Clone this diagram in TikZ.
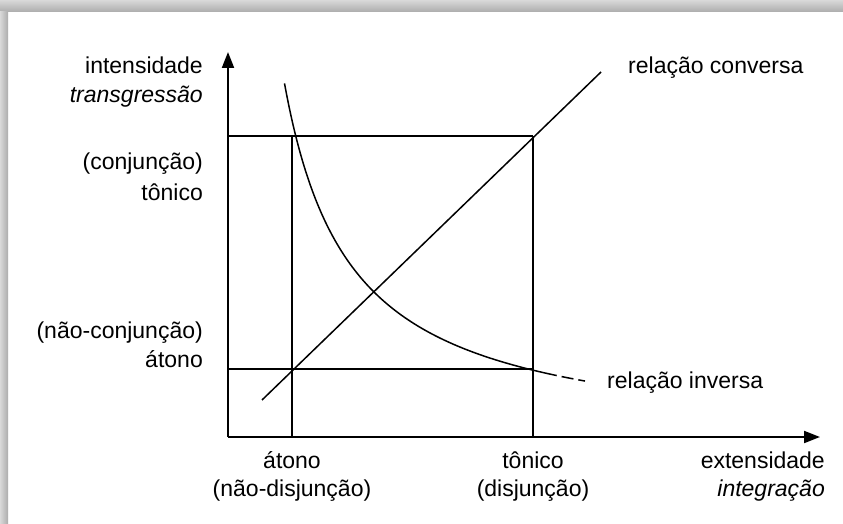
\documentclass[tikz,border=0pt]{standalone}
\usepackage{fontspec}
\setmainfont{Liberation Sans}
\usetikzlibrary{arrows.meta}
\begin{document}
\begin{tikzpicture}[x=1pt,y=-1pt,
  lbl/.style={inner sep=0pt,font=\fontsize{23}{27}\selectfont},
  axis/.style={line width=2pt,-{Triangle[length=16pt,width=12pt]}},
  guide/.style={line width=1.5pt},
  rel/.style={line width=1.5pt}]
\useasboundingbox (0,0) rectangle (843,524);
\fill[white] (0,0) rectangle (843,524);
% frame shadow
\shade[top color=gray!30,bottom color=gray!65] (0,0) rectangle (843,12);
\shade[left color=gray!30,right color=gray!65] (0,12) rectangle (8,524);
% coordinates
\coordinate (O) at (228,437);
\coordinate (Ytip) at (228,52);
\coordinate (Xtip) at (820,437);
\coordinate (TL) at (228,136);
\coordinate (TR) at (533,136);
\coordinate (BL) at (228,369);
\coordinate (BR) at (533,369);
\coordinate (VLt) at (292,136);
\coordinate (VLb) at (292,437);
\coordinate (VRb) at (533,437);
\coordinate (D1) at (262,400);
\coordinate (D2) at (601,72);
% guides
\draw[guide] (TL) -- (TR);
\draw[guide] (BL) -- (BR);
\draw[guide] (VLt) -- (VLb);
\draw[guide] (TR) -- (VRb);
% axes
\draw[axis] (O) -- (Ytip);
\draw[axis] (O) -- (Xtip);
% relação conversa
\draw[rel] (D1) -- (D2);
% relação inversa
\draw[rel,domain=284.5:545,samples=120,smooth] plot ({\x},{446.8-2413/((\x-218.1)/10)});
\draw[rel,dash pattern=on 12pt off 5pt,domain=545:585,samples=20,smooth] plot ({\x},{446.8-2413/((\x-218.1)/10)});
% labels
\node[lbl,anchor=base east] (int) at (203,74) {intensidade};
\node[lbl,anchor=base east] (tra) at (203,103) {\itshape transgressão};
\node[lbl,anchor=base east] (conj) at (203,169) {(conjunção)};
\node[lbl,anchor=base east] (ton1) at (203,200) {tônico};
\node[lbl,anchor=base east] (nconj) at (203,338) {(não-conjunção)};
\node[lbl,anchor=base east] (ato1) at (203,367) {átono};
\node[lbl,anchor=base] (ato2) at (292,468) {átono};
\node[lbl,anchor=base] (ndis) at (292,496) {(não-disjunção)};
\node[lbl,anchor=base] (ton2) at (533,468) {tônico};
\node[lbl,anchor=base] (dis) at (533,496) {(disjunção)};
\node[lbl,anchor=base east] (ext) at (825,468) {extensidade};
\node[lbl,anchor=base east] (integ) at (825,496) {\itshape integração};
\node[lbl,anchor=base west] (conv) at (628,74) {relação conversa};
\node[lbl,anchor=base west] (inv) at (607,388) {relação inversa};
\end{tikzpicture}
\end{document}
